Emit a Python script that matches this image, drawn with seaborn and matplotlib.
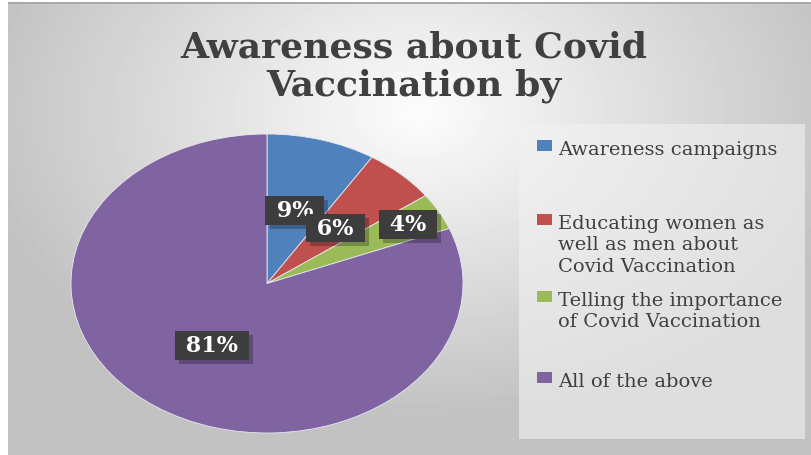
import numpy as np
import matplotlib
matplotlib.use("Agg")
import matplotlib.pyplot as plt
import matplotlib.patheffects as pe
from matplotlib.patches import Rectangle, Patch
import seaborn as sns

# chart data
categories = ["Awareness campaigns",
              "Educating women as\nwell as men about\nCovid Vaccination",
              "Telling the importance\nof Covid Vaccination",
              "All of the above"]
shares = [9, 6, 4, 81]
pct_labels = ["9%", "6%", "4%", "81%"]
title = "Awareness about Covid\nVaccination by"

sns.set_style("white")
plt.rcParams['font.family'] = ['DejaVu Serif']
colors = sns.color_palette(["#4F81BD", "#C0504D", "#9BBB59", "#8064A2"])
label_dist = [0.51, 0.51, 0.82, 0.50]

fig = plt.figure(figsize=(8.12, 4.56), dpi=100)
fig.patch.set_facecolor("white")

# gradient background (office style)
bg = fig.add_axes([8 / 812, 0, 1 - 8 / 812, 1 - 4 / 456])
yy, xx = np.mgrid[0:452, 0:804]
d = np.sqrt(((xx - 410) / 620.0) ** 2 + ((yy - 110) / 420.0) ** 2)
shade = np.clip(0.99 - 0.32 * d, 0.76, 0.99)
bg.imshow(shade, cmap="gray", vmin=0, vmax=1, aspect="auto", interpolation="bilinear")
bg.set_axis_off()
fig.add_artist(Rectangle((8 / 812, 1 - 5 / 456), 1, 2 / 456, transform=fig.transFigure,
                         color="#a8a8a8", lw=0))

# legend panel
fig.add_artist(Rectangle((519 / 812, 16 / 456), 286 / 812, 315 / 456, transform=fig.transFigure,
                         facecolor="#f2f2f2", alpha=0.6, edgecolor="none"))

# pie
ax = fig.add_axes([71 / 812, 22 / 456, 392 / 812, 299 / 456])
wedges, _ = ax.pie(shares, colors=colors, startangle=90, counterclock=False,
                   wedgeprops=dict(edgecolor="#e8e8f0", linewidth=0.6))
ax.set_aspect("auto")
ax.set_xlim(-1, 1)
ax.set_ylim(-1, 1)

for w, lab, r in zip(wedges, pct_labels, label_dist):
    ang = np.deg2rad((w.theta1 + w.theta2) / 2)
    x, y = r * np.cos(ang), r * np.sin(ang)
    t = ax.text(x, y, f" {lab} ", ha="center", va="center", fontsize=16, fontweight="bold",
                color="white",
                bbox=dict(boxstyle="square,pad=0.15", fc="#3d3d3d", ec="none"))
    t.get_bbox_patch().set_path_effects(
        [pe.SimplePatchShadow(offset=(3, -3), shadow_rgbFace="black", alpha=0.25), pe.Normal()])

# legend entries
tops = [137, 211, 288, 369]
for cat, col, top in zip(categories, colors, tops):
    leg = fig.legend(handles=[Patch(facecolor=col, edgecolor="none")], labels=[cat],
                     loc="upper left", bbox_to_anchor=(527 / 812, 1 - (top - 6) / 456),
                     frameon=False, fontsize=14, handlelength=0.8, handleheight=0.55,
                     handletextpad=0.3, borderpad=0, labelcolor="#404040")
    for t in leg.get_texts():
        t.set_linespacing(1.25)
    # put the colour square next to the first line of the label
    for column in leg._legend_handle_box.get_children():
        for item in column.get_children():
            item.align = "top"
            item.get_children()[0].set_offset((0, -6))

fig.text(0.51, 1 - 30 / 456, title, ha="center", va="top", fontsize=26,
         fontweight="bold", color="#404040", linespacing=1.15)

fig.savefig("out.png", dpi=100)
